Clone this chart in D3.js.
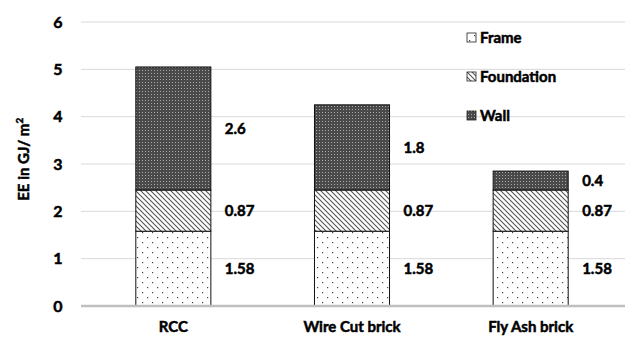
<!DOCTYPE html>
<html>
<head>
<meta charset="utf-8">
<script src="https://cdn.jsdelivr.net/npm/d3@7"></script>
<style>
  body { margin: 0; background: #fff; }
  svg { display: block; }
  text { font-family: Lato, "Open Sans", sans-serif; font-weight: 700; fill: #000; stroke: #000; stroke-width: 0.5px; }
</style>
</head>
<body>
<svg id="chart" width="640" height="338"></svg>
<script>
// Embodied energy by construction type (GJ/m²)
const categories = ["RCC", "Wire Cut brick", "Fly Ash brick"];
const seriesNames = ["Frame", "Foundation", "Wall"];
const frame = [1.58, 1.58, 1.58];
const foundation = [0.87, 0.87, 0.87];
const wall = [2.6, 1.8, 0.4];
const yTicks = [0, 1, 2, 3, 4, 5, 6];

const rows = categories.map((c, i) => ({ category: c, Frame: frame[i], Foundation: foundation[i], Wall: wall[i] }));

const svg = d3.select("#chart");
const W = 640, H = 338;
const margin = { left: 84, right: 20, top: 22, bottom: 32 };

const x = d3.scaleBand().domain(categories).range([margin.left, W - margin.right]).paddingInner(0.58).paddingOuter(0.29);
const y = d3.scaleLinear().domain([0, 6]).range([H - margin.bottom, margin.top]);

// Fill patterns for each series
const defs = svg.append("defs");
const pFrame = defs.append("pattern").attr("id", "pat-frame").attr("patternUnits", "userSpaceOnUse")
  .attr("width", 10).attr("height", 10);
pFrame.append("rect").attr("width", 10).attr("height", 10).attr("fill", "#fff");
pFrame.append("rect").attr("x", 2).attr("y", 2).attr("width", 1.2).attr("height", 1.2).attr("fill", "#444");
pFrame.append("rect").attr("x", 7).attr("y", 7).attr("width", 1.2).attr("height", 1.2).attr("fill", "#444");

const pFound = defs.append("pattern").attr("id", "pat-found").attr("patternUnits", "userSpaceOnUse")
  .attr("width", 5).attr("height", 5);
pFound.append("rect").attr("width", 5).attr("height", 5).attr("fill", "#fff");
pFound.append("path").attr("d", "M0,0 L5,5 M-1,4 L1,6 M4,-1 L6,1").attr("stroke", "#555").attr("stroke-width", 1.1);

const pWall = defs.append("pattern").attr("id", "pat-wall").attr("patternUnits", "userSpaceOnUse")
  .attr("width", 3).attr("height", 3);
pWall.append("rect").attr("width", 3).attr("height", 3).attr("fill", "#4a4a4a");
pWall.append("rect").attr("x", 1).attr("y", 1).attr("width", 1).attr("height", 1).attr("fill", "#a8a8a8");

const fills = { Frame: "url(#pat-frame)", Foundation: "url(#pat-found)", Wall: "url(#pat-wall)" };

// Gridlines
svg.append("g").selectAll("line").data(yTicks.filter(t => t > 0)).join("line")
  .attr("x1", 81).attr("x2", W - 15)
  .attr("y1", d => y(d)).attr("y2", d => y(d))
  .attr("stroke", "#d9d9d9").attr("stroke-width", 1);

// Y tick labels
svg.append("g").selectAll("text").data(yTicks).join("text")
  .attr("x", 58).attr("y", d => y(d)).attr("dy", "0.35em")
  .attr("text-anchor", "middle").attr("font-size", 16).text(d => d);

// Y axis title
svg.append("text")
  .attr("transform", `translate(29,${y(3.1)}) rotate(-90)`)
  .attr("text-anchor", "middle").attr("font-size", 15)
  .html('EE in GJ/ m<tspan baseline-shift="super" font-size="10">2</tspan>');

// Stacked bars
const stack = d3.stack().keys(seriesNames)(rows);
const layers = svg.append("g").selectAll("g").data(stack).join("g")
  .attr("fill", d => fills[d.key]);
layers.selectAll("rect").data(d => d).join("rect")
  .attr("x", d => x(d.data.category))
  .attr("width", x.bandwidth())
  .attr("y", d => y(d[1]))
  .attr("height", d => y(d[0]) - y(d[1]))
  .attr("stroke", "#111").attr("stroke-width", 1);

// Value labels beside each segment
layers.selectAll("text").data(d => d.map(v => ({ v, key: d.key }))).join("text")
  .attr("x", d => x(d.v.data.category) + x.bandwidth() + 14)
  .attr("y", d => y((d.v[0] + d.v[1]) / 2))
  .attr("dy", "0.35em").attr("font-size", 15).attr("fill", "#000")
  .text(d => d.v.data[d.key]);

// Baseline
svg.append("line").attr("x1", 81).attr("x2", W - 15)
  .attr("y1", y(0)).attr("y2", y(0)).attr("stroke", "#bfbfbf").attr("stroke-width", 2.5);

// Category labels
svg.append("g").selectAll("text").data(categories).join("text")
  .attr("x", d => x(d) + x.bandwidth() / 2).attr("y", 332)
  .attr("text-anchor", "middle").attr("font-size", 15).text(d => d);

// Legend
const legend = svg.append("g").selectAll("g").data(seriesNames).join("g")
  .attr("transform", (d, i) => `translate(467,${38 + i * 39})`);
legend.append("rect").attr("x", 0).attr("y", -5).attr("width", 9).attr("height", 9)
  .attr("fill", d => fills[d]).attr("stroke", "#222").attr("stroke-width", 0.8);
legend.append("text").attr("x", 13).attr("dy", "0.35em").attr("font-size", 15).text(d => d);
</script>
</body>
</html>
